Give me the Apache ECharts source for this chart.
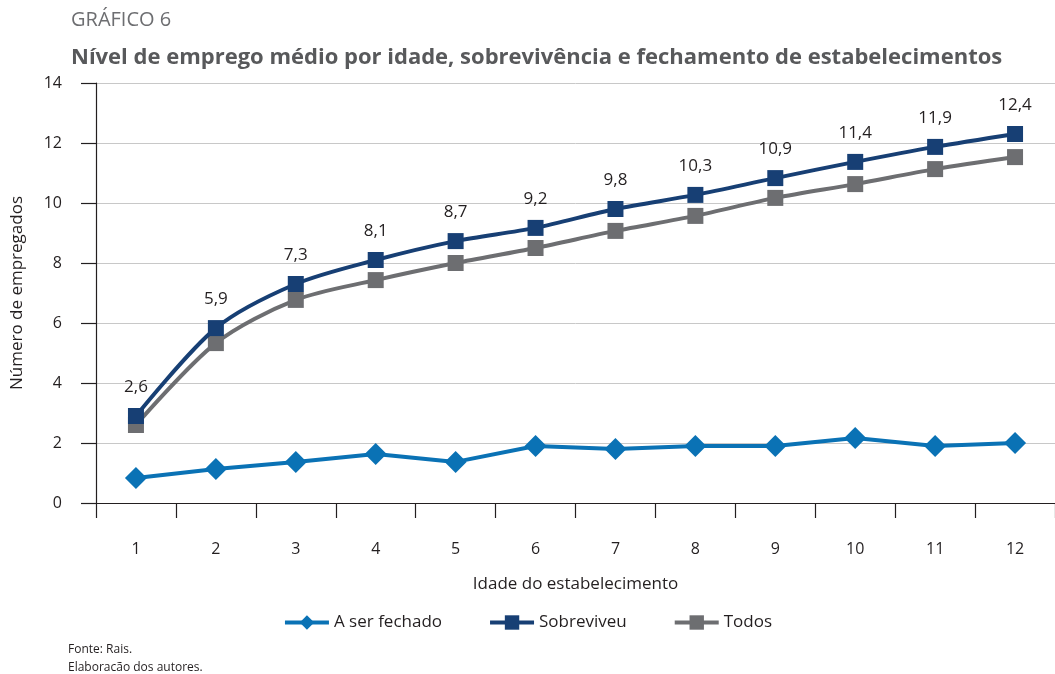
<!DOCTYPE html>
<html>
<head>
<meta charset="utf-8">
<script src="https://cdn.jsdelivr.net/npm/echarts@6/dist/echarts.min.js"></script>
<style>
  html, body { margin: 0; padding: 0; background: #fff; }
  #chart { width: 1055px; height: 674px; }
</style>
</head>
<body>
<div id="chart"></div>
<script>
// idade do estabelecimento
const idades = ["1", "2", "3", "4", "5", "6", "7", "8", "9", "10", "11", "12"];
const aSerFechado = [0.83, 1.13, 1.37, 1.63, 1.37, 1.9, 1.8, 1.9, 1.9, 2.17, 1.9, 2.0];
const sobreviveu = [2.9, 5.83, 7.3, 8.1, 8.73, 9.17, 9.8, 10.27, 10.83, 11.37, 11.87, 12.3];
const todos = [2.6, 5.33, 6.77, 7.43, 8.0, 8.5, 9.07, 9.57, 10.17, 10.63, 11.13, 11.53];
// rótulos impressos sobre a série "Sobreviveu"
const rotulos = ["2,6", "5,9", "7,3", "8,1", "8,7", "9,2", "9,8", "10,3", "10,9", "11,4", "11,9", "12,4"];
const yTicks = [0, 2, 4, 6, 8, 10, 12, 14];

const fonte = "'Open Sans', 'Noto Sans', sans-serif";
const corTexto = "#231f20";

let chart = echarts.init(document.getElementById("chart"), null, { renderer: "canvas" });

let option = {
  backgroundColor: "#fff",
  textStyle: { fontFamily: fonte },
  title: [
    {
      text: "GRÁFICO 6",
      left: 66,
      top: 5,
      textStyle: { fontFamily: fonte, fontSize: 20, fontWeight: "normal", color: "#6d6e71" }
    },
    {
      text: "Nível de emprego médio por idade, sobrevivência e fechamento de estabelecimentos",
      left: 66,
      top: 42,
      textStyle: { fontFamily: fonte, fontSize: 22, fontWeight: "bold", color: "#58595b" }
    }
  ],
  grid: {
    left: 96,
    right: -2,
    top: 83,
    bottom: 171,
    containLabel: false
  },
  legend: {
    bottom: 38,
    left: "center",
    itemWidth: 44,
    itemHeight: 18,
    itemGap: 46,
    lineStyle: { width: 4 },
    textStyle: { fontFamily: fonte, fontSize: 17, color: corTexto },
    data: ["A ser fechado", "Sobreviveu", "Todos"]
  },
  xAxis: {
    type: "category",
    data: idades,
    boundaryGap: true,
    name: "Idade do estabelecimento",
    nameLocation: "middle",
    nameGap: 73,
    nameTextStyle: { fontFamily: fonte, fontSize: 17, color: corTexto },
    axisLine: { lineStyle: { color: corTexto, width: 1.2 } },
    axisTick: { show: true, length: 15, lineStyle: { color: corTexto, width: 1.2 } },
    axisLabel: { margin: 38, fontSize: 16, color: corTexto, fontFamily: fonte },
    splitLine: { show: false }
  },
  yAxis: {
    type: "value",
    min: 0,
    max: 14,
    interval: 2,
    name: "Número de empregados",
    nameLocation: "middle",
    nameGap: 70,
    nameTextStyle: { fontFamily: fonte, fontSize: 17, color: corTexto },
    axisLine: { show: true, lineStyle: { color: corTexto, width: 1.2 } },
    axisTick: { show: true, length: 15, lineStyle: { color: corTexto, width: 1.2 } },
    axisLabel: {
      margin: 34,
      fontSize: 16,
      color: corTexto,
      fontFamily: fonte,
      formatter: function (v) { return yTicks.indexOf(v) >= 0 ? String(v) : ""; }
    },
    splitLine: { show: true, lineStyle: { color: "#c8c8c8", width: 1 } }
  },
  series: [
    {
      name: "A ser fechado",
      type: "line",
      data: aSerFechado,
      symbol: "diamond",
      symbolSize: 22,
      lineStyle: { color: "#0a72b5", width: 4 },
      itemStyle: { color: "#0a72b5" },
      z: 3
    },
    {
      name: "Todos",
      type: "line",
      data: todos,
      smooth: 0.3,
      symbol: "rect",
      symbolSize: 16,
      lineStyle: { color: "#6d6e71", width: 4 },
      itemStyle: { color: "#6d6e71" },
      z: 2
    },
    {
      name: "Sobreviveu",
      type: "line",
      data: sobreviveu,
      smooth: 0.3,
      symbol: "rect",
      symbolSize: 16,
      lineStyle: { color: "#173f74", width: 4 },
      itemStyle: { color: "#173f74" },
      label: {
        show: true,
        position: "top",
        distance: 12,
        fontSize: 17,
        color: corTexto,
        fontFamily: fonte,
        formatter: function (p) { return rotulos[p.dataIndex]; }
      },
      z: 4
    }
  ],
  graphic: [
    {
      type: "text",
      left: 68,
      top: 641,
      style: {
        text: "Fonte: Rais.\nElaboracão dos autores.",
        font: "12px 'Liberation Sans Narrow', 'Open Sans', sans-serif",
        fill: corTexto,
        lineHeight: 18
      }
    }
  ]
};

chart.setOption(option);
</script>
</body>
</html>
